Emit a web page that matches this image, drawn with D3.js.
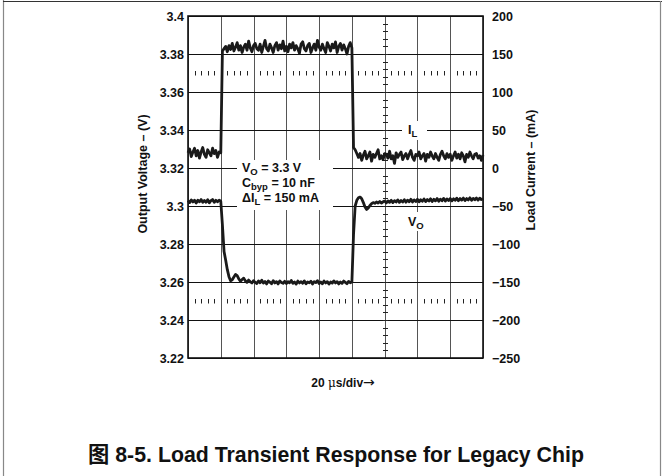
<!DOCTYPE html>
<html><head><meta charset="utf-8">
<script src="https://cdn.jsdelivr.net/npm/d3@7/dist/d3.min.js"></script>
<style>
body{margin:0;background:#fff;}
svg{display:block;}
text{font-family:"Liberation Sans",Arial,"Noto Sans CJK SC",sans-serif;font-weight:bold;fill:#111;}
</style></head>
<body>
<svg id="chart" width="662" height="476"></svg>
<script>
// ---- data ----
const timeStepUs = 1; // sample spacing (µs), time axis 0..180 µs (20 µs/div)
const timeTicks = [0,20,40,60,80,100,120,140,160,180];
const voltTicks = [3.22,3.24,3.26,3.28,3.30,3.32,3.34,3.36,3.38,3.40];
const voltTickLabels = ["3.22","3.24","3.26","3.28","3.3","3.32","3.34","3.36","3.38","3.4"];
const currTicks = [-250,-200,-150,-100,-50,0,50,100,150,200];
const dottedRowsV = [3.37, 3.25];
const tickedColumnT = 120;

const loadCurrent = [
 20,25,15,21,26,16,23,13,21,27,
 18,14,24,20,16,26,19,23,14,21,
 20,
 154,157,160,153,161,156,164,154,159,165,
 155,161,152,159,163,155,167,158,153,161,
 164,157,155,163,152,160,168,157,154,163,
 158,152,161,165,155,162,157,167,154,160,
 153,163,158,165,155,161,157,151,163,166,
 157,154,161,164,152,158,163,155,168,159,
 155,163,157,152,165,160,154,163,158,166,
 152,160,164,155,162,157,150,160,165,158,
 27,24,19,14,19,10,17,22,12,16,
 21,9,18,14,19,24,12,16,11,19,
 18,13,22,12,16,6,20,14,18,21,
 11,16,19,12,18,23,14,10,18,16,
 21,12,16,19,9,18,14,21,16,12,
 19,14,10,18,22,16,12,19,14,18,
 10,16,21,13,18,12,20,16,8,18,
 14,21,16,12,18,19,13,16,10,17
];
const outputVoltage = [
 3.3028,3.3018,3.3032,3.3021,3.3030,3.3016,3.3031,3.3022,3.3034,3.3019,
 3.3029,3.3020,3.3033,3.3017,3.3028,3.3034,3.3019,3.3030,3.3022,3.3031,
 3.3025,3.2900,3.2760,3.2715,3.2665,3.2628,3.2607,3.2612,3.2626,3.2640,
 3.2634,3.2616,3.2604,3.2613,3.2620,3.2606,3.2598,3.2610,3.2601,3.2595,
 3.2607,3.2598,3.2592,3.2606,3.2596,3.2609,3.2594,3.2603,3.2590,3.2605,
 3.2599,3.2591,3.2607,3.2595,3.2602,3.2590,3.2606,3.2597,3.2593,3.2604,
 3.2592,3.2602,3.2596,3.2608,3.2593,3.2600,3.2589,3.2605,3.2595,3.2602,
 3.2593,3.2606,3.2591,3.2600,3.2596,3.2604,3.2589,3.2602,3.2597,3.2607,
 3.2592,3.2600,3.2591,3.2605,3.2595,3.2602,3.2589,3.2600,3.2594,3.2606,
 3.2595,3.2602,3.2590,3.2600,3.2593,3.2605,3.2598,3.2591,3.2603,3.2596,
 3.2600,3.2850,3.3000,3.3030,3.3043,3.3047,3.3038,3.3018,3.2995,3.2982,
 3.2990,3.3003,3.3012,3.3018,3.3014,3.3021,3.3016,3.3024,3.3015,3.3022,
 3.3026,3.3016,3.3027,3.3019,3.3030,3.3018,3.3028,3.3021,3.3032,3.3019,
 3.3029,3.3021,3.3033,3.3020,3.3031,3.3022,3.3035,3.3021,3.3032,3.3024,
 3.3035,3.3022,3.3033,3.3025,3.3037,3.3023,3.3034,3.3026,3.3038,3.3024,
 3.3035,3.3027,3.3039,3.3025,3.3036,3.3028,3.3040,3.3026,3.3037,3.3029,
 3.3039,3.3027,3.3038,3.3030,3.3041,3.3028,3.3039,3.3031,3.3042,3.3029,
 3.3039,3.3032,3.3043,3.3030,3.3040,3.3033,3.3042,3.3031,3.3041,3.3034,
 3.3038
];

// ---- layout ----
const L = 188, R = 483, T = 16, B = 358;
const svg = d3.select("#chart");

// outer frame
svg.append("line").attr("x1",3.5).attr("x2",3.5).attr("y1",0).attr("y2",476).attr("stroke","#888").attr("stroke-width",1.2);
svg.append("line").attr("x1",3).attr("x2",662).attr("y1",1.5).attr("y2",1.5).attr("stroke","#333").attr("stroke-width",1.2);
svg.append("line").attr("x1",660.5).attr("x2",660.5).attr("y1",1).attr("y2",476).attr("stroke","#888").attr("stroke-width",1.2);

const x = d3.scaleLinear().domain([0,180]).range([L,R]);
const yV = d3.scaleLinear().domain([3.22,3.40]).range([B,T]);
const yI = d3.scaleLinear().domain([-250,200]).range([B,T]);

// grid
const grid = svg.append("g").attr("stroke-width",1);
grid.selectAll(".vg").data(timeTicks).join("line").attr("stroke","#555")
  .attr("x1",d=>Math.round(x(d))+0.5).attr("x2",d=>Math.round(x(d))+0.5)
  .attr("y1",T).attr("y2",B);
grid.selectAll(".hg").data(voltTicks).join("line").attr("stroke","#111")
  .attr("y1",d=>Math.round(yV(d))+0.5).attr("y2",d=>Math.round(yV(d))+0.5)
  .attr("x1",L).attr("x2",R);

// dotted rows (minor ticks)
const minorT = d3.range(0,180.001,4).filter(t=>t%20!==0);
dottedRowsV.forEach(v=>{
  const yy = Math.round(yV(v));
  grid.selectAll(null).data(minorT).join("line").attr("stroke","#222")
    .attr("x1",d=>Math.round(x(d))+0.5).attr("x2",d=>Math.round(x(d))+0.5)
    .attr("y1",yy-2).attr("y2",yy+2.5);
});
// ticked vertical column
const minorV = d3.range(0,46).map(i=>3.22+i*0.004);
const cx = Math.round(x(tickedColumnT))+0.5;
grid.selectAll(null).data(minorV).join("line").attr("stroke","#222")
  .attr("y1",d=>Math.round(yV(d))+0.5).attr("y2",d=>Math.round(yV(d))+0.5)
  .attr("x1",cx-2.5).attr("x2",cx+2.5);

// white label boxes
svg.append("rect").attr("x",237).attr("y",160).attr("width",96).attr("height",50).attr("fill","#fff");
svg.append("rect").attr("x",402).attr("y",121).attr("width",25).attr("height",19).attr("fill","#fff");
svg.append("rect").attr("x",404).attr("y",212).attr("width",25).attr("height",19).attr("fill","#fff");

// frame
svg.append("rect").attr("x",L).attr("y",T).attr("width",R-L).attr("height",B-T)
  .attr("fill","none").attr("stroke","#111").attr("stroke-width",1.6);

// traces
const lineI = d3.line().x((d,i)=>x(i*timeStepUs)).y(d=>yI(d));
const lineV = d3.line().x((d,i)=>x(i*timeStepUs)).y(d=>yV(d));
svg.append("path").datum(loadCurrent).attr("d",lineI).attr("fill","none")
  .attr("stroke","#1a1a1a").attr("stroke-width",2.8).attr("stroke-linejoin","round");
svg.append("path").datum(outputVoltage).attr("d",lineV).attr("fill","none")
  .attr("stroke","#1a1a1a").attr("stroke-width",2.8).attr("stroke-linejoin","round");

// axes
const axL = d3.axisLeft(yV).tickValues(voltTicks).tickSize(0).tickPadding(4)
  .tickFormat((d,i)=>voltTickLabels[i]);
const gL = svg.append("g").attr("transform",`translate(${L},0)`).call(axL);
gL.select(".domain").remove();
gL.selectAll("text").style("font-size","12.5px").attr("dy","0.35em");

const axR = d3.axisRight(yI).tickValues(currTicks).tickSize(0).tickPadding(9);
const gR = svg.append("g").attr("transform",`translate(${R},0)`).call(axR);
gR.select(".domain").remove();
gR.selectAll("text").style("font-size","12.5px").attr("dy","0.35em");

// axis titles
svg.append("text").attr("transform",`translate(147,174) rotate(-90)`)
  .attr("text-anchor","middle").style("font-size","12.5px").text("Output Voltage – (V)");
svg.append("text").attr("transform",`translate(535,170) rotate(-90)`)
  .attr("text-anchor","middle").style("font-size","12.5px").text("Load Current – (mA)");

const xl = svg.append("text").attr("x",343).attr("y",387).attr("text-anchor","middle").style("font-size","12px");
xl.append("tspan").text("20 ");
xl.append("tspan").style("font-weight","normal").style("font-family","'DejaVu Serif',serif").text("μ");
xl.append("tspan").text("s/div");
xl.append("tspan").style("font-weight","normal").style("font-size","14px").style("font-family","'DejaVu Sans',sans-serif").text("→");

// annotation
const ann = [
  ["V","O"," = 3.3 V",172],
  ["C","byp"," = 10 nF",187],
  ["ΔI","L"," = 150 mA",202]
];
ann.forEach(a=>{
  const t = svg.append("text").attr("x",242).attr("y",a[3]).style("font-size","12.5px");
  t.append("tspan").text(a[0]);
  t.append("tspan").attr("dy",3).style("font-size","9.5px").text(a[1]);
  t.append("tspan").attr("dy",-3).text(a[2]);
});
const il = svg.append("text").attr("x",408).attr("y",134).style("font-size","12.5px");
il.append("tspan").text("I");
il.append("tspan").attr("dy",3).style("font-size","9.5px").text("L");
const vo = svg.append("text").attr("x",408).attr("y",226).style("font-size","12.5px");
vo.append("tspan").text("V");
vo.append("tspan").attr("dy",3).style("font-size","9.5px").text("O");

// caption
svg.append("text").attr("x",336).attr("y",462).attr("text-anchor","middle")
  .style("font-size","21.3px").text("图 8-5. Load Transient Response for Legacy Chip");
</script>
</body></html>
